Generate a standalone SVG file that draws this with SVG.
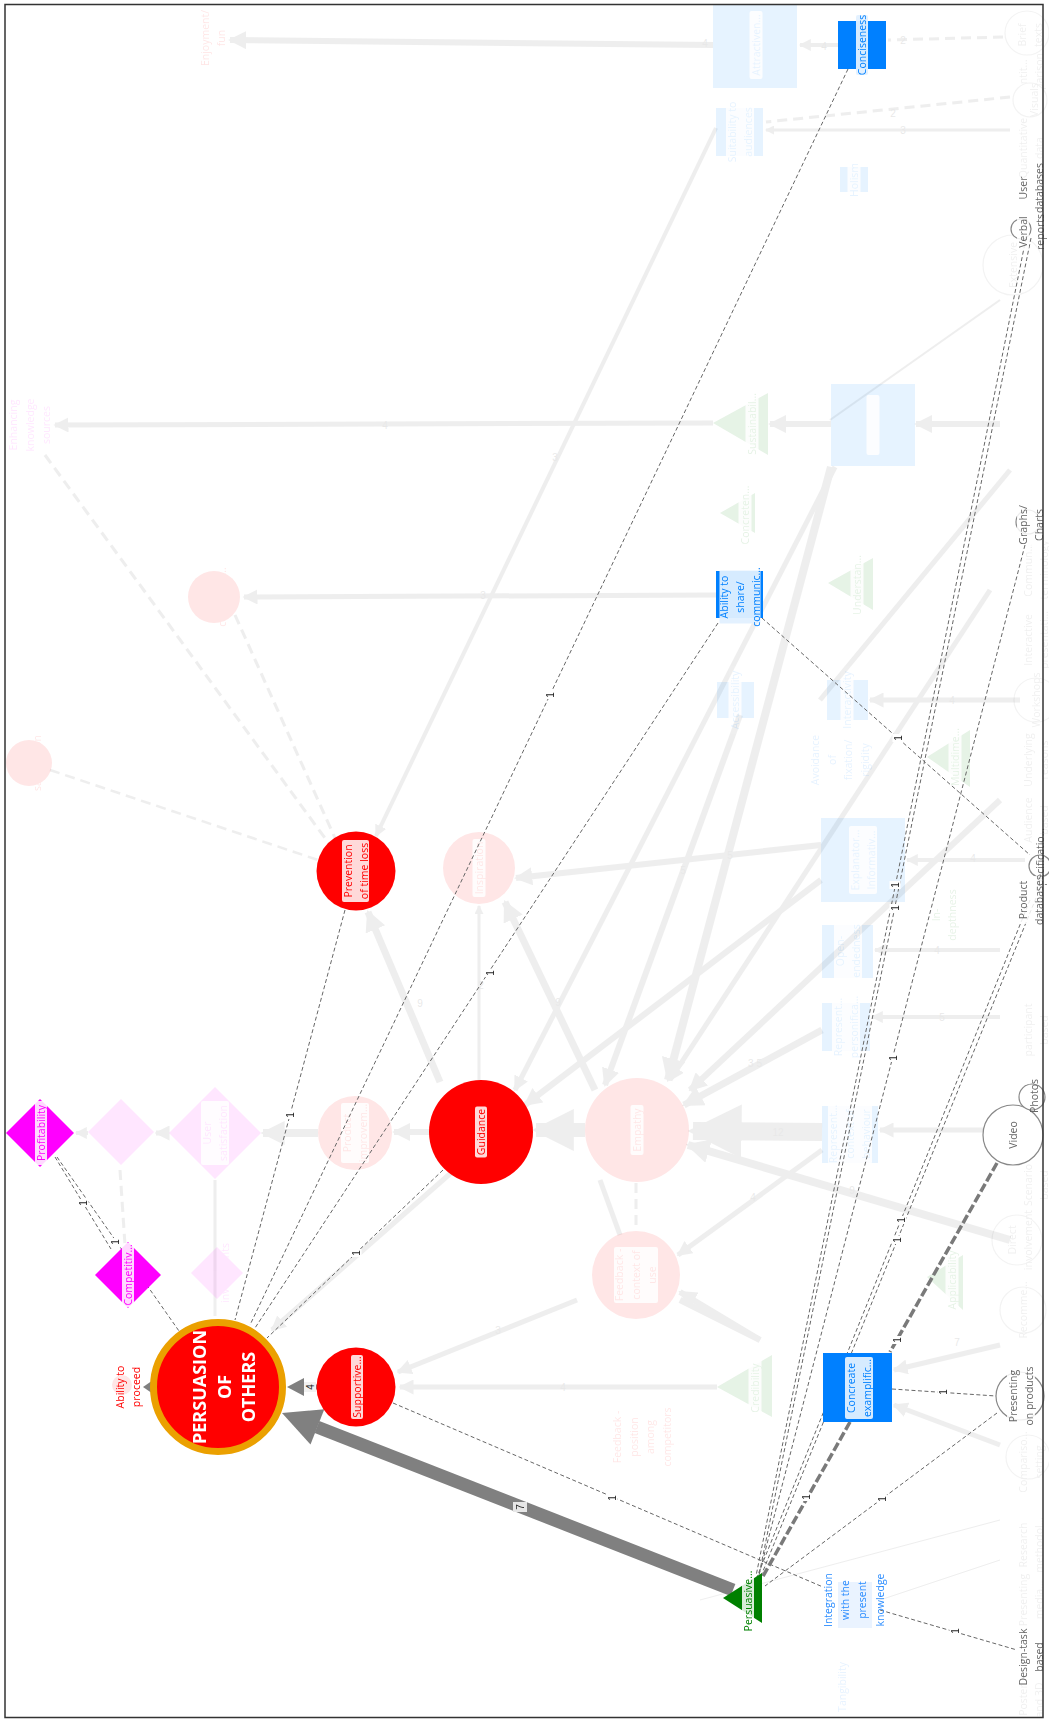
<svg xmlns="http://www.w3.org/2000/svg" width="1049" height="1722" viewBox="0 0 1049 1722">
<defs>
<style>
.t{font-family:"Open Sans","Liberation Sans",sans-serif;font-size:10.5px;text-anchor:middle}
.red{fill:#ff0000}.mag{fill:#ff00ff}.blu{fill:#0080ff}.grn{fill:#008000}.gry{fill:#666}
.box{fill:#fff;fill-opacity:.85}
.lbox{fill:#e2f0ff;fill-opacity:.95}
.el{font-family:"Liberation Sans",sans-serif;font-size:10px;fill:#222;text-anchor:middle}
.elb{fill:#fff}
.dl{stroke:#666;stroke-width:1;stroke-dasharray:4 2.5;fill:none}
.td{stroke:#7a7a7a;stroke-width:3.5;stroke-dasharray:9 3;fill:none}
.fe line,.fe path{stroke:#808080;fill:none}
.fe .dsh{stroke-dasharray:10 6}
.fl{font-family:"Liberation Sans",sans-serif;font-size:10px;fill:#555;text-anchor:middle}
.gc{fill:#fff;stroke:#888;stroke-width:1.2}
.pt{font-family:"Open Sans","Liberation Sans",sans-serif;font-size:18px;font-weight:bold;fill:#fff;text-anchor:middle}
</style>
<marker id="fa" viewBox="0 0 10 10" refX="9" refY="5" markerWidth="3" markerHeight="3" orient="auto" markerUnits="strokeWidth"><path d="M0,0L10,5L0,10z" fill="#808080"/></marker>
</defs>
<rect x="0" y="0" width="1049" height="1722" fill="#fff"/>

<!-- faded background edges -->
<g id="faded-connectors" class="fe" opacity="0.13">
<line x1="713" y1="45" x2="230" y2="40" stroke-width="6" marker-end="url(#fa)"/>
<line x1="713" y1="423" x2="55" y2="425" stroke-width="5" marker-end="url(#fa)"/>
<line x1="716" y1="595" x2="244" y2="597" stroke-width="5" marker-end="url(#fa)"/>
<line x1="717" y1="1387" x2="400" y2="1387" stroke-width="5" marker-end="url(#fa)"/>
<line x1="822" y1="1132" x2="693" y2="1131" stroke-width="18" marker-end="url(#fa)"/>
<line x1="716" y1="128" x2="376" y2="836" stroke-width="4" marker-end="url(#fa)"/>
<line x1="831" y1="467" x2="668" y2="1080" stroke-width="8" marker-end="url(#fa)"/>
<line x1="821" y1="880" x2="525" y2="1105" stroke-width="6" marker-end="url(#fa)"/>
<line x1="822" y1="1030" x2="684" y2="1105" stroke-width="7" marker-end="url(#fa)"/>
<line x1="822" y1="1150" x2="678" y2="1255" stroke-width="5" marker-end="url(#fa)"/>
<line x1="1010" y1="1240" x2="688" y2="1145" stroke-width="8" marker-end="url(#fa)"/>
<line x1="440" y1="1082" x2="368" y2="912" stroke-width="7" marker-end="url(#fa)"/>
<line x1="595" y1="1090" x2="505" y2="902" stroke-width="7" marker-end="url(#fa)"/>
<line x1="479" y1="1080" x2="479" y2="906" stroke-width="3" marker-end="url(#fa)"/>
<line x1="429" y1="1132" x2="394" y2="1132" stroke-width="6" marker-end="url(#fa)"/>
<line x1="318" y1="1133" x2="263" y2="1133" stroke-width="8" marker-end="url(#fa)"/>
<line x1="169" y1="1133" x2="156" y2="1133" stroke-width="5" marker-end="url(#fa)"/>
<line x1="88" y1="1133" x2="76" y2="1133" stroke-width="4" marker-end="url(#fa)"/>
<line x1="585" y1="1130" x2="536" y2="1130" stroke-width="14" marker-end="url(#fa)"/>
<line x1="821" y1="845" x2="516" y2="878" stroke-width="6" marker-end="url(#fa)"/>
<line x1="740" y1="715" x2="605" y2="1085" stroke-width="6" marker-end="url(#fa)"/>
<line x1="577" y1="1300" x2="398" y2="1372" stroke-width="5" marker-end="url(#fa)"/>
<line x1="680" y1="1300" x2="760" y2="1340" stroke-width="6"/>
<line x1="835" y1="467" x2="515" y2="1090" stroke-width="5" marker-end="url(#fa)"/>
<line x1="838" y1="45" x2="800" y2="45" stroke-width="4" marker-end="url(#fa)"/>
<line class="dsh" x1="1003" y1="37" x2="888" y2="40" stroke-width="3"/>
<line x1="1010" y1="130" x2="766" y2="130" stroke-width="3" marker-end="url(#fa)"/>
<line class="dsh" x1="1010" y1="97" x2="766" y2="122" stroke-width="3"/>
<line x1="1020" y1="700" x2="870" y2="700" stroke-width="5" marker-end="url(#fa)"/>
<line x1="1025" y1="860" x2="907" y2="860" stroke-width="4" marker-end="url(#fa)"/>
<line x1="1000" y1="950" x2="875" y2="950" stroke-width="4" marker-end="url(#fa)"/>
<line x1="1000" y1="1017" x2="872" y2="1017" stroke-width="4" marker-end="url(#fa)"/>
<line x1="1000" y1="1130" x2="880" y2="1130" stroke-width="5" marker-end="url(#fa)"/>
<line x1="1000" y1="1345" x2="894" y2="1370" stroke-width="5" marker-end="url(#fa)"/>
<line x1="1000" y1="1445" x2="894" y2="1405" stroke-width="5" marker-end="url(#fa)"/>
<line class="dsh" x1="45" y1="455" x2="330" y2="845" stroke-width="3"/>
<line class="dsh" x1="235" y1="615" x2="335" y2="838" stroke-width="3"/>
<line class="dsh" x1="50" y1="770" x2="318" y2="860" stroke-width="2.5"/>
<line x1="831" y1="424" x2="770" y2="424" stroke-width="6" marker-end="url(#fa)"/>
<line x1="1000" y1="424" x2="916" y2="424" stroke-width="6" marker-end="url(#fa)"/>
<line x1="1010" y1="470" x2="820" y2="700" stroke-width="5"/>
<line x1="1000" y1="800" x2="690" y2="1090" stroke-width="6" marker-end="url(#fa)"/>
<line x1="990" y1="590" x2="670" y2="1080" stroke-width="5" marker-end="url(#fa)"/>
<line x1="760" y1="1340" x2="680" y2="1292" stroke-width="6" marker-end="url(#fa)"/>
<line x1="1000" y1="300" x2="830" y2="420" stroke-width="2"/>
<line x1="120" y1="1170" x2="125" y2="1245" stroke-width="3" class="dsh"/>
<line x1="215" y1="1180" x2="215" y2="1316" stroke-width="3"/>
<line x1="460" y1="1165" x2="272" y2="1330" stroke-width="5" marker-end="url(#fa)"/>
<line x1="600" y1="1180" x2="620" y2="1235" stroke-width="5"/>
<line x1="636" y1="1183" x2="636" y2="1228" stroke-width="3" class="dsh"/>
<line x1="1000" y1="1520" x2="700" y2="1600" stroke-width="1"/>
<line x1="1000" y1="1560" x2="880" y2="1600" stroke-width="1"/>
<g class="fl">
<text x="705" y="47">4</text><text x="385" y="429">4</text><text x="483" y="599">3</text>
<text x="563" y="1391">4</text><text x="778" y="1136">12</text><text x="555" y="461">3</text>
<text x="755" y="1067">3 5</text><text x="753" y="1201">4</text><text x="852" y="1194">9</text>
<text x="420" y="1007">9</text><text x="558" y="1006">9</text><text x="481" y="989">2</text>
<text x="824" y="50">4</text><text x="903" y="44">2</text><text x="903" y="134">3</text>
<text x="893" y="117">2</text><text x="952" y="704">4</text><text x="973" y="862">4</text>
<text x="937" y="954">4</text><text x="942" y="1021">5</text><text x="957" y="1346">7</text>
<text x="498" y="1334">3</text><text x="730" y="859">5</text><text x="683" y="874">5</text>
</g>
</g>

<!-- faded background nodes -->
<g id="faded-nodes" opacity="0.1">
<g id="n-product-improvement"><circle cx="355" cy="1133" r="37" fill="#f00"/><g transform="translate(355,1133) rotate(-90)"><rect class="box" x="-30" y="-14" width="60" height="28" rx="2"/><text class="t red"><tspan x="0" y="-4.4">Product</tspan><tspan x="0" y="12">improvem…</tspan></text></g></g>
<g id="n-inspiration"><circle cx="479" cy="868" r="36" fill="#f00"/><g transform="translate(479,868) rotate(-90)"><rect class="box" x="-29" y="-6.5" width="58" height="13" rx="2"/><text class="t red"><tspan x="0" y="3.8">Inspiration</tspan></text></g></g>
<g id="n-empathy"><circle cx="637" cy="1130" r="52" fill="#f00"/><g transform="translate(637,1130) rotate(-90)"><rect class="box" x="-25" y="-6.5" width="50" height="13" rx="2"/><text class="t red"><tspan x="0" y="3.8">Empathy</tspan></text></g></g>
<g id="n-feedback-context"><circle cx="636" cy="1275" r="44" fill="#f00"/><g transform="translate(636,1275) rotate(-90)"><rect class="box" x="-28" y="-22" width="56" height="44" rx="2"/><text class="t red"><tspan x="0" y="-12.7">Feedback -</tspan><tspan x="0" y="3.8">context of</tspan><tspan x="0" y="20.3">use</tspan></text></g></g>
<g id="n-unity"><circle cx="214" cy="597" r="26" fill="#f00"/><g transform="translate(214,597) rotate(-90)"><text class="t red"><tspan x="0" y="-4.4">Unity in</tspan><tspan x="0" y="12">communic…</tspan></text></g></g>
<g id="n-job"><circle cx="29" cy="763" r="23" fill="#f00"/><g transform="translate(29,763) rotate(-90)"><text class="t red"><tspan x="0" y="-4.4">Job</tspan><tspan x="0" y="12">satisfaction</tspan></text></g></g>
<g id="n-ability-proceed-shape"><circle cx="122" cy="1385" r="10" fill="#f00"/></g>
<g id="n-enjoyment"><g transform="translate(213,38) rotate(-90)"><text class="t red"><tspan x="0" y="-4.4">Enjoyment/</tspan><tspan x="0" y="12">fun</tspan></text></g></g>
<g id="n-feedback-position"><g transform="translate(642,1437) rotate(-90)"><text class="t red"><tspan x="0" y="-21">Feedback -</tspan><tspan x="0" y="-4.4">position</tspan><tspan x="0" y="12">among</tspan><tspan x="0" y="28.6">competitors</tspan></text></g></g>
<g id="n-brand"><polygon points="121,1099 154,1132 121,1165 88,1132" fill="#f0f"/><g transform="translate(121,1132) rotate(-90)"><text class="t mag"><tspan x="0" y="-4.4">Brand</tspan><tspan x="0" y="12">identity</tspan></text></g></g>
<g id="n-user-satisfaction"><polygon points="215,1087 261,1133 215,1179 169,1133" fill="#f0f"/><g transform="translate(215,1133) rotate(-90)"><rect class="box" x="-32" y="-14" width="64" height="28" rx="2"/><text class="t mag"><tspan x="0" y="-4.4">User</tspan><tspan x="0" y="12">satisfaction</tspan></text></g></g>
<g id="n-right-investments"><polygon points="217,1247 243,1273 217,1299 191,1273" fill="#f0f"/><g transform="translate(217,1273) rotate(-90)"><text class="t mag"><tspan x="0" y="-4.4">Right</tspan><tspan x="0" y="12">investments</tspan></text></g></g>
<g id="n-enhancing"><g transform="translate(30,425) rotate(-90)"><text class="t mag"><tspan x="0" y="-12.7">Enhancing</tspan><tspan x="0" y="3.8">knowledge</tspan><tspan x="0" y="20.3">sources</tspan></text></g></g>
<g id="n-attractiveness"><rect x="713" y="5" width="84" height="83" fill="#0080ff"/><g transform="translate(756,45) rotate(-90)"><rect class="box" x="-34" y="-6.5" width="68" height="13" rx="2"/><text class="t blu"><tspan x="0" y="3.8">Attractiven…</tspan></text></g></g>
<g id="n-suitability"><rect x="716" y="108" width="47" height="48" fill="#0080ff"/><g transform="translate(740,132) rotate(-90)"><rect class="box" x="-34" y="-14" width="68" height="28" rx="2"/><text class="t blu"><tspan x="0" y="-4.4">Suitability to</tspan><tspan x="0" y="12">audiences</tspan></text></g></g>
<g id="n-holism"><rect x="840" y="167" width="28" height="25" fill="#0080ff"/><g transform="translate(854,180) rotate(-90)"><rect class="box" x="-20" y="-6.5" width="40" height="13" rx="2"/><text class="t blu"><tspan x="0" y="3.8">Holism</tspan></text></g></g>
<g id="n-big-rect"><rect x="831" y="384" width="84" height="82" fill="#0080ff"/><g transform="translate(873,425) rotate(-90)"><rect class="box" x="-30" y="-6.5" width="60" height="13" rx="2"/></g></g>
<g id="n-accessibility"><rect x="717" y="682" width="37" height="36" fill="#0080ff"/><g transform="translate(735,700) rotate(-90)"><rect class="box" x="-34" y="-6.5" width="68" height="13" rx="2"/><text class="t blu"><tspan x="0" y="3.8">Accessibility</tspan></text></g></g>
<g id="n-interactivity"><rect x="827" y="680" width="41" height="40" fill="#0080ff"/><g transform="translate(847,700) rotate(-90)"><rect class="box" x="-34" y="-6.5" width="68" height="13" rx="2"/><text class="t blu"><tspan x="0" y="3.8">Interactivity</tspan></text></g></g>
<g id="n-avoidance"><g transform="translate(840,760) rotate(-90)"><text class="t blu"><tspan x="0" y="-21">Avoidance</tspan><tspan x="0" y="-4.4">of</tspan><tspan x="0" y="12">fixation/</tspan><tspan x="0" y="28.6">rigidity</tspan></text></g></g>
<g id="n-explanatory"><rect x="821" y="818" width="84" height="84" fill="#0080ff"/><g transform="translate(863,860) rotate(-90)"><rect class="box" x="-34" y="-14" width="68" height="28" rx="2"/><text class="t blu"><tspan x="0" y="-4.4">Explanator…</tspan><tspan x="0" y="12">Informativ…</tspan></text></g></g>
<g id="n-open-endedness"><rect x="822" y="925" width="51" height="53" fill="#0080ff"/><g transform="translate(848,951) rotate(-90)"><rect class="box" x="-30" y="-14" width="60" height="28" rx="2"/><text class="t blu"><tspan x="0" y="-4.4">Open-</tspan><tspan x="0" y="12">endedness</tspan></text></g></g>
<g id="n-personification"><rect x="822" y="1003" width="48" height="48" fill="#0080ff"/><g transform="translate(846,1027) rotate(-90)"><rect class="box" x="-34" y="-14" width="68" height="28" rx="2"/><text class="t blu"><tspan x="0" y="-4.4">Represent…</tspan><tspan x="0" y="12">personifica…</tspan></text></g></g>
<g id="n-context-behaviour"><rect x="822" y="1106" width="56" height="57" fill="#0080ff"/><g transform="translate(850,1134) rotate(-90)"><rect class="box" x="-30" y="-22" width="60" height="44" rx="2"/><text class="t blu"><tspan x="0" y="-12.7">Represent…</tspan><tspan x="0" y="3.8">context of</tspan><tspan x="0" y="20.3">behaviour</tspan></text></g></g>
<g id="n-tangibility"><g transform="translate(842,1687) rotate(-90)"><text class="t blu"><tspan x="0" y="3.8">Tangibility</tspan></text></g></g>
<g id="n-sustainability"><polygon points="713,423 768,393 768,455" fill="#008000"/><g transform="translate(752,424) rotate(-90)"><rect class="box" x="-34" y="-6.5" width="68" height="13" rx="2"/><text class="t grn"><tspan x="0" y="3.8">Sustainabil…</tspan></text></g></g>
<g id="n-concreteness"><polygon points="720,513 755,493 755,533" fill="#008000"/><g transform="translate(745,515) rotate(-90)"><rect class="box" x="-32" y="-6.5" width="64" height="13" rx="2"/><text class="t grn"><tspan x="0" y="3.8">Concreten…</tspan></text></g></g>
<g id="n-understanding"><polygon points="828,583 873,558 873,610" fill="#008000"/><g transform="translate(857,585) rotate(-90)"><rect class="box" x="-32" y="-6.5" width="64" height="13" rx="2"/><text class="t grn"><tspan x="0" y="3.8">Understan…</tspan></text></g></g>
<g id="n-multidimensional"><polygon points="927,757 970,730 970,787" fill="#008000"/><g transform="translate(955,757) rotate(-90)"><rect class="box" x="-32" y="-6.5" width="64" height="13" rx="2"/><text class="t grn"><tspan x="0" y="3.8">Multidime…</tspan></text></g></g>
<g id="n-in-depthness"><g transform="translate(944,915) rotate(-90)"><text class="t grn"><tspan x="0" y="-4.4">In-</tspan><tspan x="0" y="12">depthness</tspan></text></g></g>
<g id="n-applicability"><polygon points="927,1277 963,1255 963,1310" fill="#008000"/><g transform="translate(952,1280) rotate(-90)"><rect class="box" x="-34" y="-6.5" width="68" height="13" rx="2"/><text class="t grn"><tspan x="0" y="3.8">Applicability</tspan></text></g></g>
<g id="n-credibility"><polygon points="717,1387 772,1355 772,1417" fill="#008000"/><g transform="translate(755,1388) rotate(-90)"><rect class="box" x="-30" y="-6.5" width="60" height="13" rx="2"/><text class="t grn"><tspan x="0" y="3.8">Credibility</tspan></text></g></g>
<g id="n-brief"><circle class="gc" cx="1027" cy="33" r="22"/><g transform="translate(1030,35) rotate(-90)"><text class="t gry"><tspan x="0" y="-4.4">Brief</tspan><tspan x="0" y="12">texts</tspan></text></g></g>
<g id="n-quant-comp"><g transform="translate(1031,82) rotate(-90)"><text class="t gry"><tspan x="0" y="-4.4">Quantit…</tspan><tspan x="0" y="12">comparison</tspan></text></g></g>
<g id="n-visuals"><circle class="gc" cx="1030" cy="100" r="17"/><g transform="translate(1034,100) rotate(-90)"><text class="t gry"><tspan x="0" y="3.8">Visuals</tspan></text></g></g>
<g id="n-quant-data"><g transform="translate(1031,148) rotate(-90)"><text class="t gry"><tspan x="0" y="-4.4">Quantitative</tspan><tspan x="0" y="12">data</tspan></text></g></g>
<g id="n-extensive"><circle class="gc" cx="1013" cy="265" r="30"/><g transform="translate(1013,265) rotate(-90)"><text class="t gry"><tspan x="0" y="3.8">Extensive</tspan></text></g></g>
<g id="n-commun"><g transform="translate(1036,570) rotate(-90)"><text class="t gry"><tspan x="0" y="-4.4">Commun…</tspan><tspan x="0" y="12">terminology</tspan></text></g></g>
<g id="n-interactive"><g transform="translate(1036,640) rotate(-90)"><text class="t gry"><tspan x="0" y="-4.4">Interactive</tspan><tspan x="0" y="12">presentati…</tspan></text></g></g>
<g id="n-workshops"><circle class="gc" cx="1036" cy="700" r="22"/><g transform="translate(1036,700) rotate(-90)"><text class="t gry"><tspan x="0" y="3.8">Workshops</tspan></text></g></g>
<g id="n-underlying"><g transform="translate(1036,760) rotate(-90)"><text class="t gry"><tspan x="0" y="-4.4">Underlying</tspan><tspan x="0" y="12">reasons</tspan></text></g></g>
<g id="n-audience"><g transform="translate(1036,820) rotate(-90)"><text class="t gry"><tspan x="0" y="-4.4">Audience</tspan><tspan x="0" y="12">based</tspan></text></g></g>
<g id="n-participant"><g transform="translate(1036,1030) rotate(-90)"><text class="t gry"><tspan x="0" y="-4.4">participant</tspan><tspan x="0" y="12">based</tspan></text></g></g>
<g id="n-scenario"><g transform="translate(1036,1185) rotate(-90)"><text class="t gry"><tspan x="0" y="-4.4">Scenario</tspan><tspan x="0" y="12">based</tspan></text></g></g>
<g id="n-direct"><circle class="gc" cx="1017" cy="1240" r="25"/><g transform="translate(1020,1240) rotate(-90)"><text class="t gry"><tspan x="0" y="-4.4">Direct</tspan><tspan x="0" y="12">involvement</tspan></text></g></g>
<g id="n-recommend"><circle class="gc" cx="1023" cy="1310" r="23"/><g transform="translate(1023,1310) rotate(-90)"><text class="t gry"><tspan x="0" y="3.8">Recomme…</tspan></text></g></g>
<g id="n-comparison"><circle class="gc" cx="1028" cy="1457" r="22"/><g transform="translate(1031,1462) rotate(-90)"><text class="t gry"><tspan x="0" y="-4.4">Compariso…</tspan><tspan x="0" y="12">setting</tspan></text></g></g>
<g id="n-research"><g transform="translate(1031,1545) rotate(-90)"><text class="t gry"><tspan x="0" y="-4.4">Research</tspan><tspan x="0" y="12">methodol…</tspan></text></g></g>
<g id="n-presenting-media"><g transform="translate(1031,1600) rotate(-90)"><text class="t gry"><tspan x="0" y="-4.4">Presenting</tspan><tspan x="0" y="12">media…</tspan></text></g></g>
<g id="n-poster"><g transform="translate(1031,1700) rotate(-90)"><text class="t gry"><tspan x="0" y="-4.4">Poster</tspan><tspan x="0" y="12">and 3D</tspan></text></g></g>
</g>

<!-- highlighted connectors -->
<g id="connectors">
<line class="dl" x1="848" y1="69" x2="250" y2="1325"/>
<line class="dl" x1="345" y1="910" x2="235" y2="1320"/>
<line class="dl" x1="718" y1="623" x2="255" y2="1328"/>
<line class="dl" x1="443" y1="1170" x2="267" y2="1338"/>
<line class="dl" x1="55" y1="1157" x2="111" y2="1249"/>
<line class="dl" x1="57" y1="1157" x2="179" y2="1331"/>
<line class="dl" x1="393" y1="1403" x2="823" y2="1587"/>
<line class="dl" x1="880" y1="1610" x2="1017" y2="1650"/>
<line class="dl" x1="762" y1="618" x2="1030" y2="855"/>
<line class="dl" x1="892" y1="1389" x2="996" y2="1396"/>
<line class="dl" x1="997" y1="1413" x2="765" y2="1586"/>
<line class="dl" x1="1026" y1="238" x2="756" y2="1576"/>
<line class="dl" x1="1031" y1="238" x2="759" y2="1575"/>
<line class="dl" x1="1025" y1="545" x2="759" y2="1575"/>
<line class="dl" x1="1030" y1="900" x2="757" y2="1577"/>
<line class="dl" x1="1036" y1="898" x2="761" y2="1576"/>
<line class="dl" x1="1028" y1="1109" x2="1000" y2="1158"/>
<line class="td" x1="997" y1="1163" x2="890" y2="1352"/>
<line class="td" x1="850" y1="1422" x2="762" y2="1578"/>
<line x1="733" y1="1590" x2="317" y2="1427" stroke="#808080" stroke-width="13"/>
<polygon points="282,1413 324.3,1409.2 310.5,1444.6" fill="#808080"/>
<line x1="317" y1="1387" x2="302" y2="1387" stroke="#808080" stroke-width="5"/>
<polygon points="287,1387 304,1378 304,1396" fill="#808080"/>
<polygon points="143,1387 151,1381.5 151,1392.5" fill="#808080"/>
</g>

<!-- highlighted nodes -->
<g id="node-persuasion"><circle cx="218" cy="1387" r="64.5" fill="#ff0000" stroke="#eba000" stroke-width="7"/><g transform="translate(218,1387) rotate(-90)"><text class="pt"><tspan x="0" y="-11.6">PERSUASION</tspan><tspan x="0" y="13.4">OF</tspan><tspan x="0" y="37.4">OTHERS</tspan></text></g></g>
<g id="node-ability-proceed"><g transform="translate(128,1387) rotate(-90)"><text class="t red"><tspan x="0" y="-4.2">Ability to</tspan><tspan x="0" y="11.8">proceed</tspan></text></g></g>
<g id="node-supportive"><circle cx="356" cy="1387" r="39.5" fill="#ff0000"/><g transform="translate(357,1387) rotate(-90)"><rect class="box" x="-32" y="-6" width="64" height="12" rx="2"/><text class="t red"><tspan x="0" y="3.8">Supportive…</tspan></text></g></g>
<g id="node-guidance"><circle cx="481" cy="1132" r="52" fill="#ff0000"/><g transform="translate(481,1132) rotate(-90)"><rect class="box" x="-25.5" y="-6" width="51" height="12" rx="2"/><text class="t red"><tspan x="0" y="3.8">Guidance</tspan></text></g></g>
<g id="node-prevention"><circle cx="356" cy="871" r="39.5" fill="#ff0000"/><g transform="translate(356,871) rotate(-90)"><rect class="box" x="-31" y="-14" width="62" height="27" rx="2"/><text class="t red"><tspan x="0" y="-4.2">Prevention</tspan><tspan x="0" y="12.3">of time loss</tspan></text></g></g>
<g id="node-profitability"><polygon points="40,1099 74,1133 40,1167 6,1133" fill="#ff00ff"/><g transform="translate(41,1133) rotate(-90)"><rect class="box" x="-32" y="-6" width="64" height="12" rx="2"/><text class="t mag"><tspan x="0" y="3.8">Profitability</tspan></text></g></g>
<g id="node-competitiveness"><polygon points="128,1242 161,1275 128,1308 95,1275" fill="#ff00ff"/><g transform="translate(128,1275) rotate(-90)"><rect class="box" x="-32" y="-6" width="64" height="12" rx="2"/><text class="t mag"><tspan x="0" y="3.8">Competitiv…</tspan></text></g></g>
<g id="node-persuasive"><polygon points="723,1598 762,1573 762,1623" fill="#008000"/><g transform="translate(748,1601) rotate(-90)"><rect class="box" x="-28" y="-6" width="56" height="12" rx="2"/><text class="t grn"><tspan x="0" y="3.8">Persuasive…</tspan></text></g></g>
<g id="node-concreate"><rect x="823" y="1353" width="69" height="69" fill="#0080ff"/><g transform="translate(859,1388) rotate(-90)"><rect class="lbox" x="-31" y="-14" width="62" height="28" rx="2"/><text class="t blu"><tspan x="0" y="-4.4">Concreate</tspan><tspan x="0" y="12.3">examplific…</tspan></text></g></g>
<g id="node-conciseness"><rect x="838" y="21" width="48" height="48" fill="#0080ff"/><g transform="translate(862,45) rotate(-90)"><rect class="lbox" x="-30" y="-6" width="60" height="12" rx="2"/><text class="t blu"><tspan x="0" y="3.8">Conciseness</tspan></text></g></g>
<g id="node-ability-share"><rect x="716" y="571" width="47" height="47" fill="#0080ff"/><g transform="translate(740,597) rotate(-90)"><rect class="lbox" x="-26.5" y="-20.5" width="53" height="41" rx="1"/><text class="t blu"><tspan x="0" y="-12.2">Ability to</tspan><tspan x="0" y="3.8">share/</tspan><tspan x="0" y="19.8">communic…</tspan></text></g></g>
<g id="node-integration"><rect x="838" y="1582" width="34" height="46" fill="#eaf3ff"/><g transform="translate(854,1600) rotate(-90)"><text class="t" style="fill:#2a8cff"><tspan x="0" y="-22.2">Integration</tspan><tspan x="0" y="-4.9">with the</tspan><tspan x="0" y="12.4">present</tspan><tspan x="0" y="29.7">knowledge</tspan></text></g></g>
<g id="node-presenting-products"><circle class="gc" cx="1020" cy="1396" r="24"/><g transform="translate(1021,1396) rotate(-90)"><rect class="box" x="-30" y="-14" width="60" height="28" rx="2"/><text class="t gry"><tspan x="0" y="-4.4">Presenting</tspan><tspan x="0" y="12.3">on products</tspan></text></g></g>
<g id="node-video"><circle class="gc" cx="1013" cy="1135" r="30"/><g transform="translate(1013,1135) rotate(-90)"><text class="t gry"><tspan x="0" y="3.8">Video</tspan></text></g></g>
<g id="node-photos"><circle class="gc" cx="1032" cy="1097" r="13"/><g transform="translate(1034,1096) rotate(-90)"><text class="t gry"><tspan x="0" y="3.8">Photos</tspan></text></g></g>
<g id="node-design-task"><g transform="translate(1031,1657) rotate(-90)"><text class="t gry"><tspan x="0" y="-4.4">Design-task</tspan><tspan x="0" y="12.3">based</tspan></text></g></g>
<g id="node-specification"><circle class="gc" cx="1040" cy="866" r="11"/><g transform="translate(1040,860) rotate(-90)"><text class="t gry"><tspan x="0" y="3.8">Specificatio…</tspan></text></g></g>
<g id="node-product-databases"><g transform="translate(1031,900) rotate(-90)"><rect class="box" x="-24" y="-14" width="48" height="28" rx="2"/><text class="t gry"><tspan x="0" y="-4.4">Product</tspan><tspan x="0" y="12.3">databases</tspan></text></g></g>
<g id="node-graphs"><circle class="gc" cx="1028" cy="522" r="12"/><g transform="translate(1031,525) rotate(-90)"><rect class="box" x="-20" y="-14" width="40" height="28" rx="2"/><text class="t gry"><tspan x="0" y="-4.4">Graphs/</tspan><tspan x="0" y="12.3">Charts</tspan></text></g></g>
<g id="node-user-databases"><g transform="translate(1031,188) rotate(-90)"><text class="t gry"><tspan x="0" y="-4.4">User</tspan><tspan x="0" y="12.3">databases</tspan></text></g></g>
<g id="node-user-reports"><g transform="translate(1040,232) rotate(-90)"><text class="t gry"><tspan x="0" y="3.8">reports</tspan></text></g></g>
<g id="node-verbal"><circle class="gc" cx="1021" cy="229" r="10"/><g transform="translate(1023,232) rotate(-90)"><rect class="box" x="-17" y="-6" width="34" height="12" rx="2"/><text class="t gry"><tspan x="0" y="3.8">Verbal</tspan></text></g></g>

<!-- connector labels -->
<g id="connector-labels">
<g transform="translate(550,695) rotate(-90)"><rect class="elb" x="-4" y="-5.5" width="8" height="11"/><text class="el" y="3.5">1</text></g>
<g transform="translate(290,1115) rotate(-90)"><rect class="elb" x="-4" y="-5.5" width="8" height="11"/><text class="el" y="3.5">1</text></g>
<g transform="translate(490,973) rotate(-90)"><rect class="elb" x="-4" y="-5.5" width="8" height="11"/><text class="el" y="3.5">1</text></g>
<g transform="translate(356,1253) rotate(-90)"><rect class="elb" x="-4" y="-5.5" width="8" height="11"/><text class="el" y="3.5">1</text></g>
<g transform="translate(83,1203) rotate(-90)"><rect class="elb" x="-4" y="-5.5" width="8" height="11"/><text class="el" y="3.5">1</text></g>
<g transform="translate(115,1242) rotate(-90)"><rect class="elb" x="-4" y="-5.5" width="8" height="11"/><text class="el" y="3.5">1</text></g>
<g transform="translate(612,1498) rotate(-90)"><rect class="elb" x="-4" y="-5.5" width="8" height="11"/><text class="el" y="3.5">1</text></g>
<g transform="translate(955,1631) rotate(-90)"><rect class="elb" x="-4" y="-5.5" width="8" height="11"/><text class="el" y="3.5">1</text></g>
<g transform="translate(898,738) rotate(-90)"><rect class="elb" x="-4" y="-5.5" width="8" height="11"/><text class="el" y="3.5">1</text></g>
<g transform="translate(943,1392) rotate(-90)"><rect class="elb" x="-4" y="-5.5" width="8" height="11"/><text class="el" y="3.5">1</text></g>
<g transform="translate(882,1499) rotate(-90)"><rect class="elb" x="-4" y="-5.5" width="8" height="11"/><text class="el" y="3.5">1</text></g>
<g transform="translate(895,885) rotate(-90)"><rect class="elb" x="-4" y="-5.5" width="8" height="11"/><text class="el" y="3.5">1</text></g>
<g transform="translate(895,908) rotate(-90)"><rect class="elb" x="-4" y="-5.5" width="8" height="11"/><text class="el" y="3.5">1</text></g>
<g transform="translate(893,1058) rotate(-90)"><rect class="elb" x="-4" y="-5.5" width="8" height="11"/><text class="el" y="3.5">1</text></g>
<g transform="translate(901,1220) rotate(-90)"><rect class="elb" x="-4" y="-5.5" width="8" height="11"/><text class="el" y="3.5">1</text></g>
<g transform="translate(897,1240) rotate(-90)"><rect class="elb" x="-4" y="-5.5" width="8" height="11"/><text class="el" y="3.5">1</text></g>
<g transform="translate(897,1340) rotate(-90)"><rect class="elb" x="-4" y="-5.5" width="8" height="11"/><text class="el" y="3.5">1</text></g>
<g transform="translate(806,1497) rotate(-90)"><rect class="elb" x="-4" y="-5.5" width="8" height="11"/><text class="el" y="3.5">1</text></g>
<g transform="translate(520,1507) rotate(-90)"><rect x="-5" y="-7" width="10" height="14" fill="#e6e6e6"/><text class="el" y="3.5">7</text></g>
<g transform="translate(310,1387) rotate(-90)"><rect x="-5" y="-6" width="10" height="12" fill="#f2f2f2"/><text class="el" y="3.5">4</text></g>
</g>

<rect x="5" y="4.5" width="1038" height="1713" fill="none" stroke="#333" stroke-width="1.5"/>
</svg>
